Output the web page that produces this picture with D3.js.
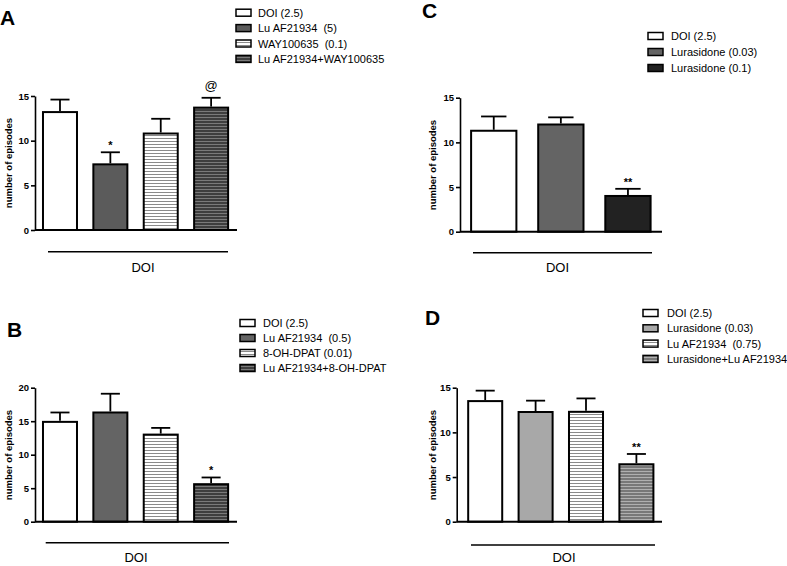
<!DOCTYPE html>
<html>
<head>
<meta charset="utf-8">
<script src="https://cdn.jsdelivr.net/npm/d3@7/dist/d3.min.js"></script>
<style>
  body { margin: 0; background: #fff; }
  text { font-family: "Liberation Sans", Arial, sans-serif; white-space: pre; }
</style>
</head>
<body>
<svg id="chart" width="787" height="566"></svg>
<script>
// ---- data ----
const groupLabel = "DOI";
const yTitle = "number of episodes";

const aLegend = ["DOI (2.5)", "Lu AF21934  (5)", "WAY100635  (0.1)", "Lu AF21934+WAY100635"];
const aMeans = [13.2, 7.35, 10.8, 13.7];
const aErrTop = [14.6, 8.7, 12.45, 14.8];
const aMarks = ["", "*", "", "@"];
const aTicks = [0, 5, 10, 15];

const bLegend = ["DOI (2.5)", "Lu AF21934  (0.5)", "8-OH-DPAT (0.01)", "Lu AF21934+8-OH-DPAT"];
const bMeans = [14.9, 16.3, 13.0, 5.6];
const bErrTop = [16.3, 19.1, 14.0, 6.6];
const bMarks = ["", "", "", "*"];
const bTicks = [0, 5, 10, 15, 20];

const cLegend = ["DOI (2.5)", "Lurasidone (0.03)", "Lurasidone (0.1)"];
const cMeans = [11.3, 12.0, 4.0];
const cErrTop = [12.9, 12.8, 4.8];
const cMarks = ["", "", "**"];
const cTicks = [0, 5, 10, 15];

const dLegend = ["DOI (2.5)", "Lurasidone (0.03)", "Lu AF21934  (0.75)", "Lurasidone+Lu AF21934"];
const dMeans = [13.5, 12.28, 12.3, 6.43];
const dErrTop = [14.67, 13.55, 13.8, 7.58];
const dMarks = ["", "", "", "**"];
const dTicks = [0, 5, 10, 15];

// ---- fills (styles) ----
const fillStyles = {
  white:     { bg: "#ffffff" },
  dark:      { bg: "#5b5b5b" },
  darker:    { bg: "#222222" },
  mid:       { bg: "#646464" },
  light:     { bg: "#a8a8a8" },
  stripeW:   { bg: "#ffffff", line: "#8a8a8a" },
  stripeD:   { bg: "#3e3e3e", line: "#7a7a7a" },
  stripeM:   { bg: "#787878", line: "#b0b0b0" }
};

const svg = d3.select("#chart");
const defs = svg.append("defs");
Object.entries(fillStyles).forEach(([k, s]) => {
  if (!s.line) return;
  const p = defs.append("pattern")
    .attr("id", "pat-" + k)
    .attr("patternUnits", "userSpaceOnUse")
    .attr("width", 6).attr("height", 3);
  p.append("rect").attr("width", 6).attr("height", 3).attr("fill", s.bg);
  p.append("rect").attr("y", 0).attr("width", 6).attr("height", 1).attr("fill", s.line);
});
const fillOf = k => fillStyles[k].line ? `url(#pat-${k})` : fillStyles[k].bg;

const panels = [
  { letter: "A", letterX: 0, letterY: 25,
    legend: aLegend, means: aMeans, errTop: aErrTop, marks: aMarks, ticks: aTicks,
    fills: ["white", "dark", "stripeW", "stripeD"],
    axisX: 35, band: [34.8, 236.3], xEnd: 237, y0: 230, yTop: 96, yMax: 15,
    titleX: 8, titleY: 163, legX: 236, legY: 12.7, legStep: 15.4, legTextX: 258,
    lineY: 251.7, line: [48, 228], doiX: 143, doiY: 271.7 },
  { letter: "B", letterX: 7, letterY: 337,
    legend: bLegend, means: bMeans, errTop: bErrTop, marks: bMarks, ticks: bTicks,
    fills: ["white", "mid", "stripeW", "stripeD"],
    axisX: 35, band: [34.8, 236.3], xEnd: 237, y0: 521.7, yTop: 387.7, yMax: 20,
    titleX: 8, titleY: 455, legX: 240, legY: 323, legStep: 15, legTextX: 263,
    lineY: 542.7, line: [45.7, 229], doiX: 136, doiY: 561.7 },
  { letter: "C", letterX: 422, letterY: 18,
    legend: cLegend, means: cMeans, errTop: cErrTop, marks: cMarks, ticks: cTicks,
    fills: ["white", "mid", "darker"],
    axisX: 460, band: [460.2, 661.5], xEnd: 662, y0: 231.7, yTop: 97.7, yMax: 15,
    titleX: 432.5, titleY: 165, legX: 648, legY: 36, legStep: 16, legTextX: 671,
    lineY: 252.7, line: [473, 652], doiX: 557.5, doiY: 271.7 },
  { letter: "D", letterX: 425, letterY: 325,
    legend: dLegend, means: dMeans, errTop: dErrTop, marks: dMarks, ticks: dTicks,
    fills: ["white", "light", "stripeW", "stripeM"],
    axisX: 456.7, band: [460, 661.6], xEnd: 662, y0: 521.7, yTop: 387.7, yMax: 15,
    titleX: 432, titleY: 455, legX: 643, legY: 313, legStep: 15.3, legTextX: 667,
    lineY: 545, line: [471, 655], doiX: 564, doiY: 562 }
];

panels.forEach(p => {
  const g = svg.append("g");
  const n = p.means.length;
  const x = d3.scaleBand().domain(d3.range(n)).range(p.band)
    .paddingInner(0.325).paddingOuter(0.1625);
  const y = d3.scaleLinear().domain([0, p.yMax]).range([p.y0, p.yTop]);

  // panel letter
  g.append("text").attr("x", p.letterX).attr("y", p.letterY)
    .attr("font-size", 21).attr("font-weight", "bold").text(p.letter);

  // legend
  const leg = g.append("g");
  p.legend.forEach((lab, i) => {
    const cy = p.legY + i * p.legStep;
    leg.append("rect").attr("x", p.legX).attr("y", cy - 3.5)
      .attr("width", 15).attr("height", 7)
      .attr("fill", fillOf(p.fills[i])).attr("stroke", "#000").attr("stroke-width", 1.5);
    leg.append("text").attr("x", p.legTextX).attr("y", cy + 4)
      .attr("font-size", 11).text(lab);
  });

  // bars
  g.selectAll(".bar").data(p.means).enter().append("rect")
    .attr("x", (d, i) => x(i))
    .attr("y", d => y(d))
    .attr("width", x.bandwidth())
    .attr("height", d => y(0) - y(d))
    .attr("fill", (d, i) => fillOf(p.fills[i]))
    .attr("stroke", "#000").attr("stroke-width", 2);

  // error bars
  const cap = x.bandwidth() * 0.56;
  p.errTop.forEach((e, i) => {
    const cx = x(i) + x.bandwidth() / 2;
    g.append("line").attr("x1", cx).attr("x2", cx)
      .attr("y1", y(p.means[i]) - 1).attr("y2", y(e))
      .attr("stroke", "#000").attr("stroke-width", 1.8);
    g.append("line").attr("x1", cx - cap / 2).attr("x2", cx + cap / 2)
      .attr("y1", y(e)).attr("y2", y(e))
      .attr("stroke", "#000").attr("stroke-width", 1.8);
    const m = p.marks[i];
    if (m) {
      g.append("text").attr("x", cx).attr("y", y(e) - (m === "@" ? 8 : 3))
        .attr("text-anchor", "middle")
        .attr("font-size", m === "@" ? 13 : 11)
        .attr("font-weight", m === "@" ? "normal" : "bold")
        .text(m);
    }
  });

  // y axis
  const ya = g.append("g").attr("transform", `translate(${p.axisX},0)`)
    .call(d3.axisLeft(y).tickValues(p.ticks).tickSize(4).tickSizeOuter(0).tickFormat(d3.format("d")));
  ya.select(".domain").attr("stroke-width", 1.6);
  ya.selectAll(".tick line").attr("stroke-width", 1.6);
  ya.selectAll(".tick text").attr("font-size", 9.5).attr("font-weight", "bold")
    .attr("font-family", "'Liberation Sans', Arial, sans-serif").attr("dx", 1);

  // x baseline
  g.append("line").attr("x1", p.axisX).attr("x2", p.xEnd)
    .attr("y1", p.y0).attr("y2", p.y0).attr("stroke", "#000").attr("stroke-width", 2);

  // y title
  g.append("text")
    .attr("transform", `translate(${p.titleX + 3.5},${p.titleY}) rotate(-90)`)
    .attr("text-anchor", "middle").attr("font-size", 9.5).attr("font-weight", "bold")
    .text(yTitle);

  // group line + label
  g.append("line").attr("x1", p.line[0]).attr("x2", p.line[1])
    .attr("y1", p.lineY).attr("y2", p.lineY).attr("stroke", "#000").attr("stroke-width", 1.5);
  g.append("text").attr("x", p.doiX).attr("y", p.doiY)
    .attr("text-anchor", "middle").attr("font-size", 13).text(groupLabel);
});
</script>
</body>
</html>
